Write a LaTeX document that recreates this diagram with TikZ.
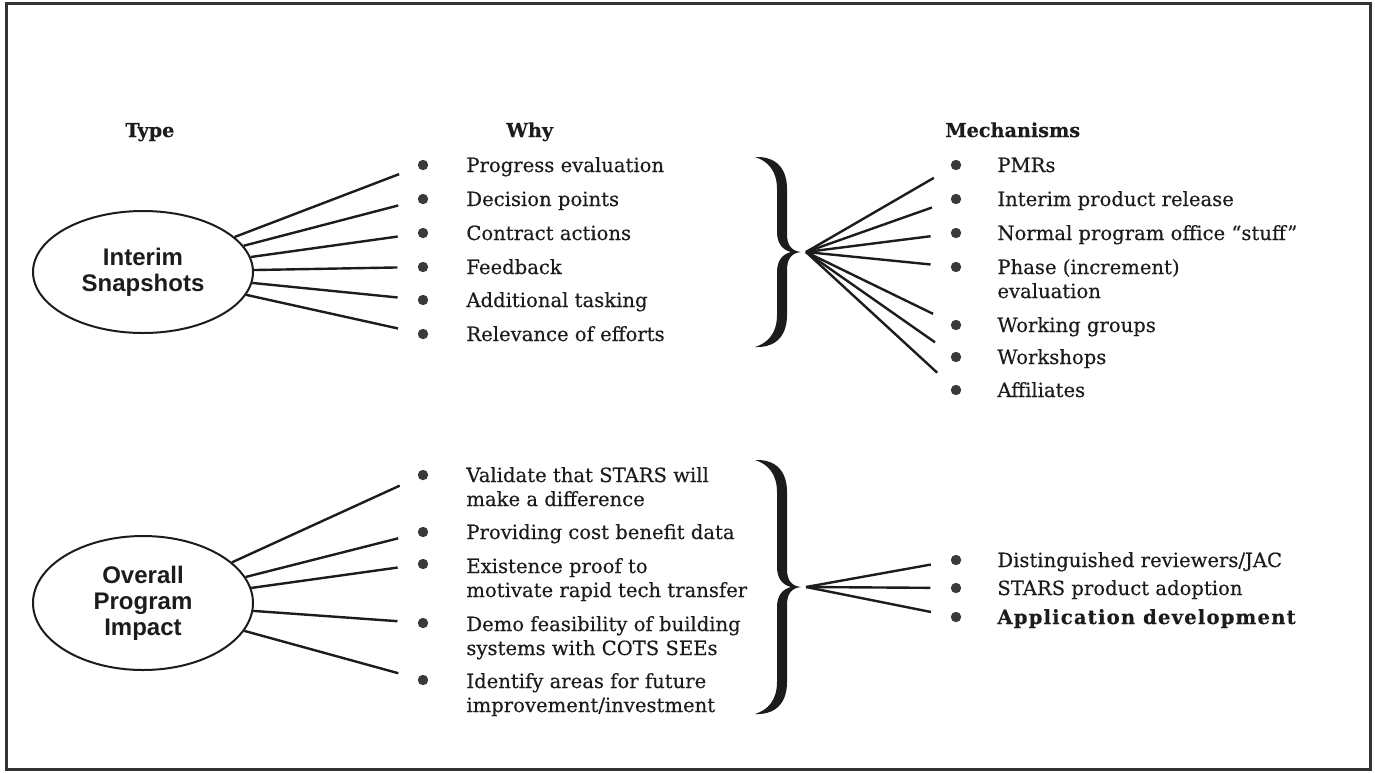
\documentclass[tikz,border=0pt]{standalone}
\usepackage{fontspec}
\setmainfont{DejaVu Serif}[FakeBold=0.35]
\newfontfamily\ovalfont{Liberation Sans}
\usetikzlibrary{shapes.geometric}

\definecolor{ink}{HTML}{1C1C1C}
\definecolor{dotgray}{HTML}{3A3A3A}

% right-pointing curly brace: stem x, tip y, half height (pixel units)
\newcommand\curlybrace[3]{%
  \begin{scope}[shift={(#1,#2)}]
    \fill[ink] (-27,-#3) .. controls (-12,{-#3-1}) and (5,{-#3+6}) .. (5,{-#3+32})
      -- (5,-18) .. controls (5,-6) and (10,-1) .. (19,0)
      .. controls (10,1) and (5,6) .. (5,18)
      -- (5,{#3-32}) .. controls (5,{#3-6}) and (-12,{#3+1}) .. (-27,#3)
      .. controls (-14,{#3-4}) and (-5,{#3-14}) .. (-5,{#3-32})
      -- (-5,20) .. controls (-5,8) and (1,2) .. (9,0)
      .. controls (1,-2) and (-5,-8) .. (-5,-20)
      -- (-5,{-#3+32}) .. controls (-5,{-#3+14}) and (-14,{-#3+4}) .. (-27,-#3)
      -- cycle;
  \end{scope}}

\begin{document}
\begin{tikzpicture}[x=0.5pt,y=-0.5pt,
  txt/.style={anchor=base west, inner sep=0pt, text=ink,
    font=\fontsize{9.8}{12}\selectfont},
  head/.style={txt, font=\fontsize{9.6}{12}\selectfont\bfseries},
  dot/.style={circle, fill=dotgray, inner sep=0pt, minimum size=5.2pt, outer sep=10.2pt},
  oval/.style={ellipse, draw=ink, line width=1pt, inner sep=0pt, align=center,
    minimum width=110pt, text=ink,
    font=\ovalfont\bfseries\fontsize{12}{13}\selectfont},
  link/.style={draw=ink, line width=1.2pt},
  frame/.style={draw=ink!90, line width=1.5pt}]

\useasboundingbox (0,0) rectangle (1375,772);
\fill[white] (0,0) rectangle (1375,772);
\draw[frame] (6,3) rectangle (1370,769);

% column headings
\node[head] (hType) at (125,137) {Type};
\node[head] (hWhy)  at (506,137) {Why};
\node[head] (hMech) at (945,137) {Mechanisms};

% ---------- interim snapshots ----------
\node[oval, minimum height=61pt] (snap) at (143,272) {Interim\\Snapshots};

\foreach \i/\y/\t in {1/165/Progress evaluation, 2/199/Decision points,
    3/233/Contract actions, 4/267/Feedback, 5/300/Additional tasking,
    6/334/Relevance of efforts}{
  \node[dot] (w\i) at (423,\y) {};
  \node[txt] (tw\i) at (466,\y+7) {\t};
  \draw[link] (snap) -- (w\i);
}

\curlybrace{782}{252}{95}
\coordinate (apexA) at (806,252);

\node[dot] (m1) at (956,165) {};
\node[dot] (m2) at (956,199) {};
\node[dot] (m3) at (956,233) {};
\node[dot] (m4) at (956,267) {};
\node[dot] (m5) at (956,325) {};
\node[dot] (m6) at (956,357) {};
\node[dot] (m7) at (956,390) {};
\node[txt] (tm1) at (997,172) {PMRs};
\node[txt] (tm2) at (997,206) {Interim product release};
\node[txt] (tm3) at (997,240) {Normal program office “stuff”};
\node[txt] (tm4) at (997,274) {Phase (increment)};
\node[txt] (tm4b) at (997,298) {evaluation};
\node[txt] (tm5) at (997,332) {Working groups};
\node[txt] (tm6) at (997,364) {Workshops};
\node[txt] (tm7) at (997,397) {Affiliates};
\foreach \i in {1,...,7}{\draw[link] (apexA) -- (m\i);}

% ---------- overall program impact ----------
\node[oval, minimum height=67pt] (impact) at (143,603) {Overall\\Program\\Impact};

\node[dot] (v1) at (423,475) {};
\node[dot] (v2) at (423,532) {};
\node[dot] (v3) at (423,564) {};
\node[dot] (v4) at (423,623) {};
\node[dot] (v5) at (423,680) {};
\node[txt] (tv1)  at (466,482) {Validate that STARS will};
\node[txt] (tv1b) at (466,506) {make a difference};
\node[txt] (tv2)  at (466,539) {Providing cost benefit data};
\node[txt] (tv3)  at (466,573) {Existence proof to};
\node[txt] (tv3b) at (466,597) {motivate rapid tech transfer};
\node[txt] (tv4)  at (466,631) {Demo feasibility of building};
\node[txt] (tv4b) at (466,655) {systems with COTS SEEs};
\node[txt] (tv5)  at (466,688) {Identify areas for future};
\node[txt] (tv5b) at (466,712) {improvement/investment};
\foreach \i in {1,...,5}{\draw[link] (impact) -- (v\i);}

\curlybrace{782}{587}{127}
\coordinate (apexB) at (806,587);

\node[dot] (n1) at (956,560) {};
\node[dot] (n2) at (956,588) {};
\node[dot] (n3) at (956,617) {};
\node[txt] (tn1) at (997,567) {Distinguished reviewers/JAC};
\node[txt] (tn2) at (997,595) {STARS product adoption};
\node[txt, font=\fontsize{9.8}{12}\selectfont\bfseries\addfontfeature{LetterSpace=6}] (tn3) at (997,624) {Application development};
\foreach \i in {1,2,3}{\draw[link] (apexB) -- (n\i);}

\end{tikzpicture}
\end{document}
